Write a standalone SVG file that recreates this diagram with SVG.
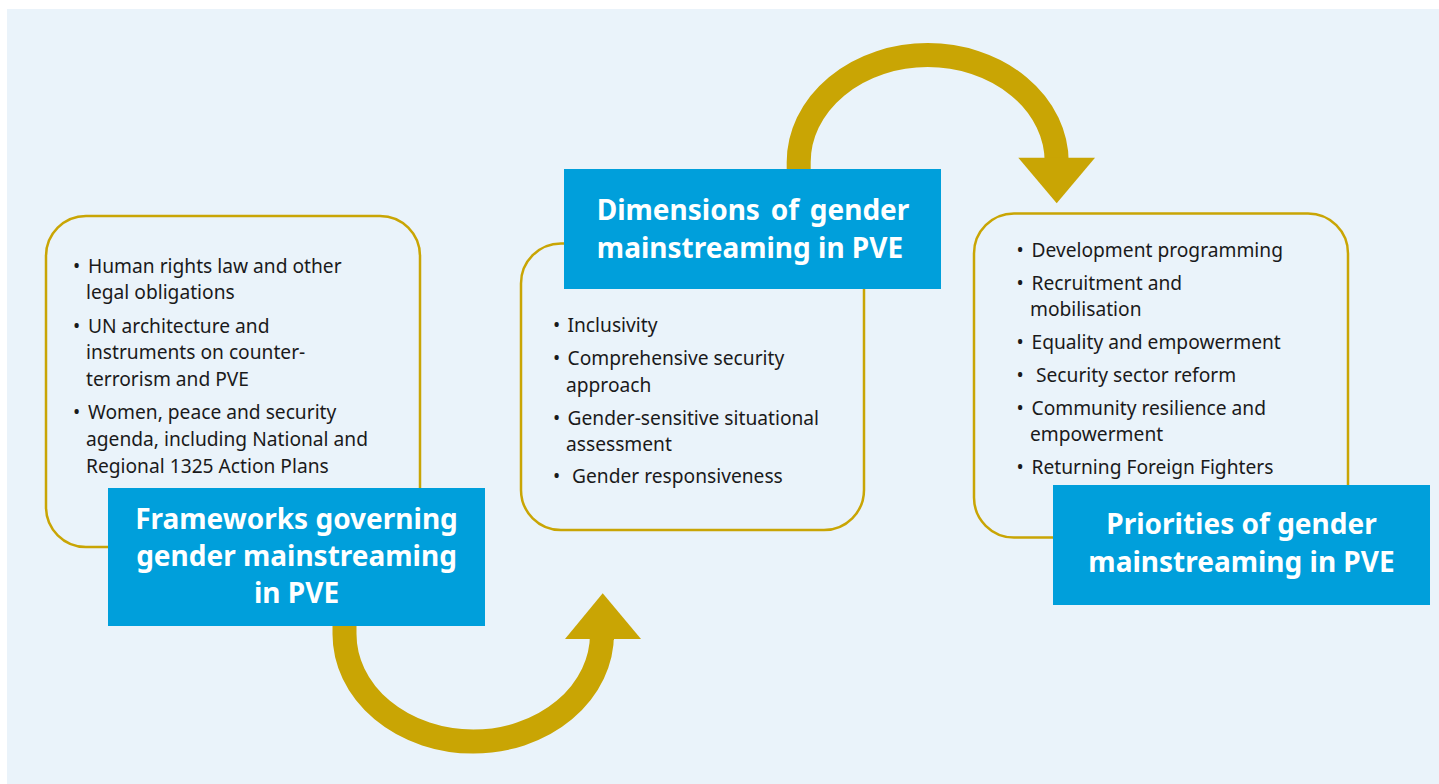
<svg xmlns="http://www.w3.org/2000/svg" width="1439" height="784" viewBox="0 0 1439 784">
<style>
.bg{fill:#EAF3FA}
.card{fill:none;stroke:#C9A504;stroke-width:2.5}
.head{fill:#009FDB}
.ht{font-family:"Noto Sans",sans-serif;font-weight:bold;font-size:28px;fill:#fff;text-anchor:middle}
.it{font-family:"Noto Sans",sans-serif;font-size:19.2px;fill:#1a1a1a}
.arc{fill:none;stroke:#C9A504;stroke-width:24}
.tri{fill:#C9A504}
</style>
<rect x="0" y="0" width="1439" height="784" fill="#fff"/>
<rect class="bg" x="7" y="9" width="1432" height="775"/>
<g id="connectors">
<path class="arc" d="M344.5 626 L344.5 634 A128.7 107.5 0 0 0 602 634 L602 640"/>
<polygon class="tri" points="565,639 641,639 602.7,593.3"/>
<path class="arc" d="M798.7 170 L798.7 162 A129 107 0 0 1 1056.7 162"/>
<polygon class="tri" points="1018.3,157.7 1095,157.7 1056.7,203.3"/>
</g>
<g id="frameworks">
<rect class="card" x="46" y="216" width="374" height="331" rx="40"/>
<text class="it"><tspan x="73" y="272.7">•</tspan><tspan x="88" y="272.7">Human rights law and other</tspan><tspan x="86" y="299.3">legal obligations</tspan><tspan x="73" y="332.7">•</tspan><tspan x="88" y="332.7">UN architecture and</tspan><tspan x="86" y="359.3">instruments on counter-</tspan><tspan x="86" y="386">terrorism and PVE</tspan><tspan x="73" y="419.3">•</tspan><tspan x="88" y="419.3">Women, peace and security</tspan><tspan x="86" y="446">agenda, including National and</tspan><tspan x="86" y="472.7">Regional 1325 Action Plans</tspan></text>
<rect class="head" x="108" y="488" width="377" height="138"/>
<text class="ht"><tspan x="296.5" y="529">Frameworks governing</tspan><tspan x="296.5" y="566">gender mainstreaming</tspan><tspan x="296.5" y="603">in PVE</tspan></text>
</g>
<g id="dimensions">
<rect class="card" x="521" y="243.5" width="343" height="286.5" rx="40"/>
<text class="it"><tspan x="553" y="331.7">•</tspan><tspan x="567.5" y="331.7">Inclusivity</tspan><tspan x="553" y="365">•</tspan><tspan x="567.5" y="365">Comprehensive security</tspan><tspan x="566" y="391.7">approach</tspan><tspan x="553" y="425">•</tspan><tspan x="567.5" y="425">Gender-sensitive situational</tspan><tspan x="566" y="451">assessment</tspan><tspan x="553" y="483.3">•</tspan><tspan x="572" y="483.3">Gender responsiveness</tspan></text>
<rect class="head" x="564" y="169" width="377" height="120"/>
<text class="ht"><tspan x="753" y="220" word-spacing="3.5">Dimensions of gender</tspan><tspan x="750" y="258">mainstreaming in PVE</tspan></text>
</g>
<g id="priorities">
<rect class="card" x="974" y="213.5" width="374" height="324" rx="40"/>
<text class="it"><tspan x="1016.5" y="257.3">•</tspan><tspan x="1031.5" y="257.3">Development programming</tspan><tspan x="1016.5" y="290">•</tspan><tspan x="1031.5" y="290">Recruitment and</tspan><tspan x="1030" y="316">mobilisation</tspan><tspan x="1016.5" y="349">•</tspan><tspan x="1031.5" y="349">Equality and empowerment</tspan><tspan x="1016.5" y="381.7">•</tspan><tspan x="1036" y="381.7">Security sector reform</tspan><tspan x="1016.5" y="415">•</tspan><tspan x="1031.5" y="415">Community resilience and</tspan><tspan x="1030" y="440.7">empowerment</tspan><tspan x="1016.5" y="474">•</tspan><tspan x="1031.5" y="474">Returning Foreign Fighters</tspan></text>
<rect class="head" x="1053" y="485" width="377" height="120"/>
<text class="ht"><tspan x="1241.5" y="534.3">Priorities of gender</tspan><tspan x="1241.5" y="571.7">mainstreaming in PVE</tspan></text>
</g>
</svg>
